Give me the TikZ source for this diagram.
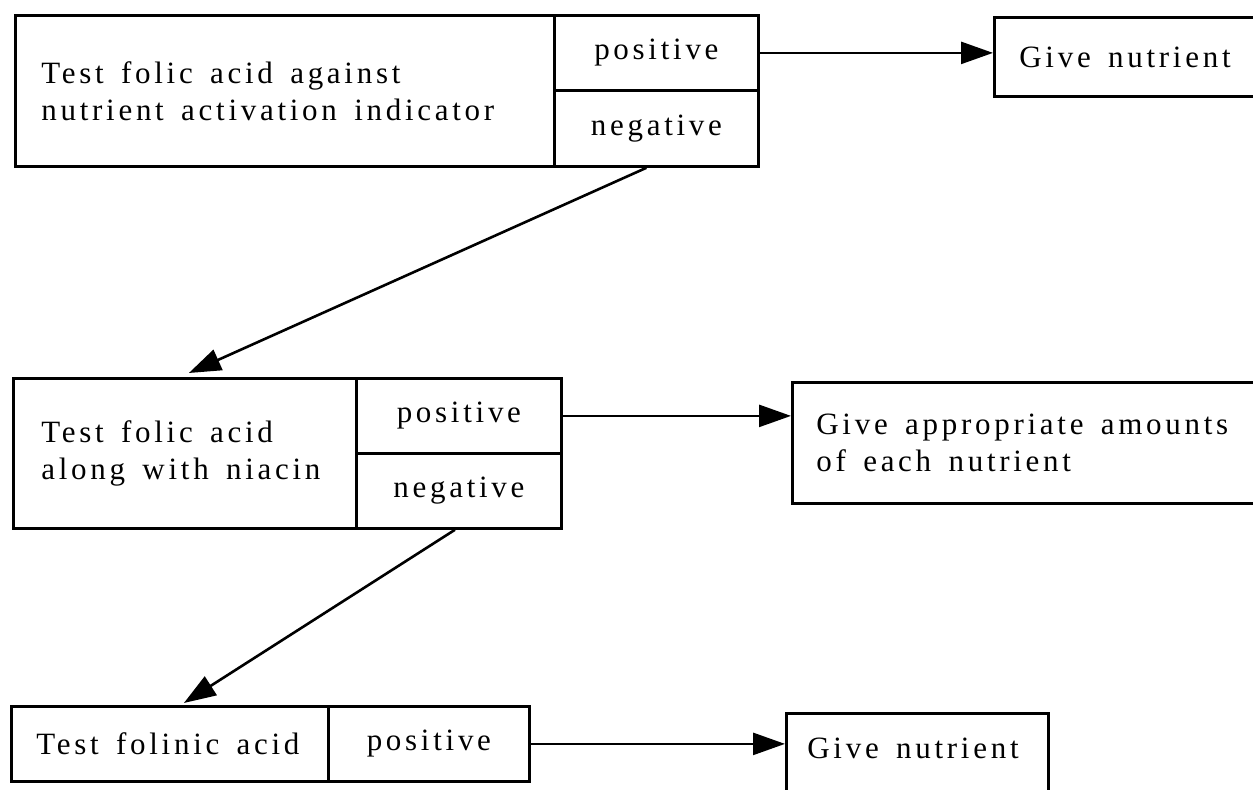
\documentclass[tikz,border=0pt]{standalone}
\usepackage{fontspec}
\setmainfont{Liberation Serif}
\newfontfamily\diagfont{Liberation Serif}[LetterSpace=12]
\newcommand\diagsetup{\diagfont\fontsize{15.5}{18.5}\selectfont}
\newcommand\wgap{\hspace{3.5pt}}
\usetikzlibrary{arrows.meta,calc}
\tikzset{
  cell/.style={draw,line width=1.4pt,anchor=north west,inner sep=0pt,
    font=\diagsetup},
  lcell/.style={cell,align=left},
  conn/.style={line width=1.3pt,-{Triangle[length=16pt,width=11pt]}}
}
\begin{document}
\begin{tikzpicture}[x=0.5pt,y=-0.5pt]
\useasboundingbox (0,0) rectangle (1253,790);
\clip (0,0) rectangle (1253,790);
% row 1
\node[lcell,inner xsep=13pt,text width=243.5pt,minimum height=75.5pt] (t1) at (14,14)
  {Test\wgap{} folic\wgap{} acid\wgap{} against\\nutrient\wgap{} activation\wgap{} indicator};
\node[cell,minimum width=102pt,minimum height=37.5pt] (p1) at (553,14) {positive};
\node[cell,minimum width=102pt,minimum height=38pt] (n1) at (553,89) {negative};
\node[lcell,inner xsep=12.5pt,text width=128.5pt,minimum height=39.5pt] (g1) at (993,16)
  {Give\wgap{} nutrient};
% row 2
\node[lcell,inner xsep=14pt,text width=143.5pt,minimum height=75pt] (t2) at (12,377)
  {Test\wgap{} folic\wgap{} acid\\along\wgap{} with\wgap{} niacin};
\node[cell,minimum width=102.5pt,minimum height=37.5pt] (p2) at (355,377) {positive};
\node[cell,minimum width=102.5pt,minimum height=37.5pt] (n2) at (355,452) {negative};
\node[lcell,inner xsep=12pt,text width=230.5pt,minimum height=60.5pt] (g2) at (791,381)
  {Give\wgap{} appropriate\wgap{} amounts\\of\wgap{} each\wgap{} nutrient};
% row 3
\node[lcell,inner xsep=12.5pt,text width=133.5pt,minimum height=37.5pt] (t3) at (10,705)
  {Test\wgap{} folinic\wgap{} acid};
\node[cell,minimum width=100.5pt,minimum height=37.5pt] (p3) at (327,705) {positive};
\node[lcell,inner xsep=10.5pt,inner ysep=6.5pt,text width=110pt,text height=16pt,text depth=30pt] (g3) at (785,712)
  {Give\wgap{} nutrient};
% connectors
\draw[conn] ([xshift=-5pt]n1.south) -- ([xshift=2pt,yshift=2pt]t2.north);
\draw[conn] (p1.east) -- (p1.east -| g1.west);
\draw[conn] (p2.east) -- (p2.east -| g2.west);
\draw[conn] ([xshift=-2pt]n2.south) -- ([xshift=7pt,yshift=1pt]t3.north);
\draw[conn] (p3.east) -- (p3.east -| g3.west);
\end{tikzpicture}
\end{document}
